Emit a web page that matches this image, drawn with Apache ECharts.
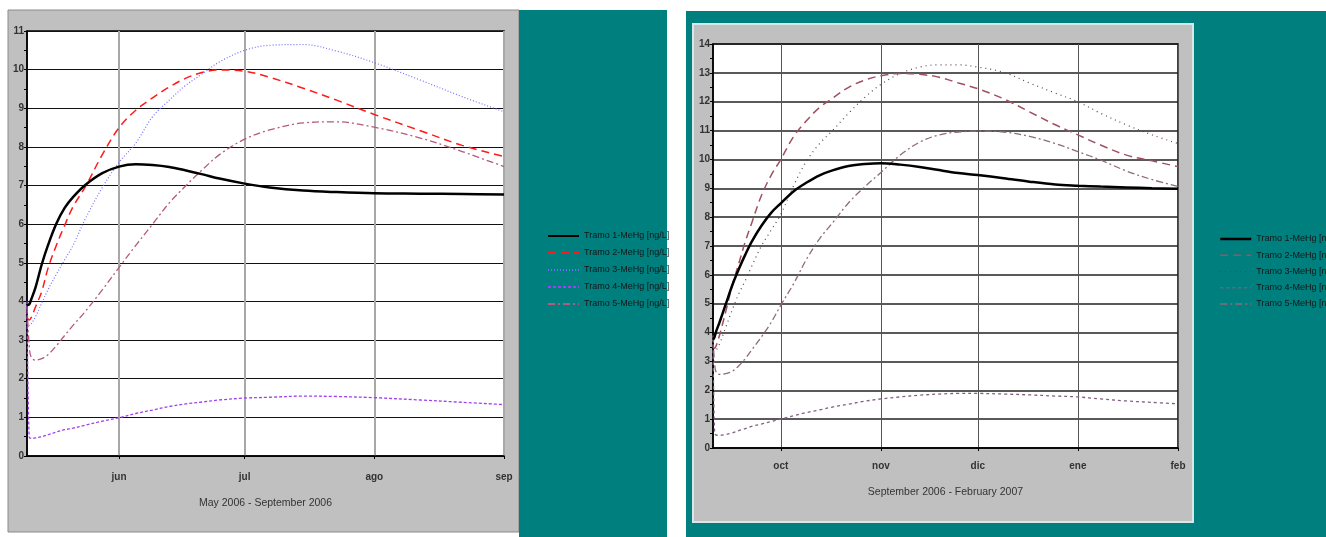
<!DOCTYPE html>
<html><head><meta charset="utf-8">
<script src="https://cdn.jsdelivr.net/npm/echarts@6/dist/echarts.min.js"></script>
<style>html,body{margin:0;padding:0;background:#fff}#c{width:1326px;height:537px}</style>
</head><body><div id="c"></div>
<script>
// ---------- data ----------
const SERIES_NAMES = ['Tramo 1-MeHg [ng/L]','Tramo 2-MeHg [ng/L]','Tramo 3-MeHg [ng/L]','Tramo 4-MeHg [ng/L]','Tramo 5-MeHg [ng/L]'];

// Left chart: days since 10 May 2006
const L_DAYS = [0,0.5,1,2,3.5,5,7,9,11,14,18,22,26,30,34,38,42,46,52,58,66,74,83,94,104,114];
const L_T1 = [3.9,3.92,4.05,4.35,4.95,5.45,6.01,6.42,6.70,7.02,7.32,7.49,7.55,7.53,7.48,7.39,7.29,7.18,7.05,6.95,6.87,6.83,6.80,6.79,6.78,6.77];
const L_T2 = [3.6,3.52,3.58,3.85,4.25,4.85,5.45,5.97,6.45,6.98,7.8,8.5,8.95,9.27,9.55,9.78,9.93,9.99,9.96,9.8,9.52,9.21,8.84,8.42,8.04,7.75];
const L_T3 = [3.45,3.38,3.42,3.6,3.95,4.3,4.7,5.08,5.45,6.15,6.95,7.6,8.1,8.78,9.21,9.6,9.9,10.2,10.5,10.63,10.65,10.48,10.18,9.73,9.3,8.91];
const L_T4 = [4.0,0.5,0.46,0.47,0.5,0.55,0.62,0.68,0.72,0.8,0.9,0.99,1.1,1.19,1.28,1.35,1.4,1.45,1.5,1.52,1.55,1.54,1.51,1.45,1.39,1.33];
const L_T5 = [3.9,2.9,2.55,2.48,2.52,2.62,2.85,3.12,3.38,3.75,4.3,4.88,5.45,6.0,6.55,7.0,7.42,7.8,8.2,8.44,8.62,8.65,8.51,8.23,7.88,7.49];
const L_TICK_DAYS = [22,52,83,114];
const L_TICK_LABELS = ['jun','jul','ago','sep'];
const L_TITLE = 'May 2006 - September 2006';

// Right chart: days since 10 September 2006
const R_DAYS = [0,0.5,1,2,4,6,8,10,12,15,18,21,25,29,33,37,42,47,52,58,64,70,76,82,90,98,106,113,120,128,136,144];
const R_T1 = [3.75,3.85,4.05,4.35,5.0,5.65,6.2,6.7,7.15,7.7,8.15,8.48,8.9,9.2,9.45,9.62,9.77,9.84,9.87,9.82,9.74,9.63,9.53,9.46,9.35,9.23,9.13,9.09,9.06,9.03,9.0,8.98];
const R_T2 = [3.5,3.45,3.55,3.9,4.75,5.65,6.4,7.15,7.8,8.75,9.45,10.0,10.8,11.35,11.8,12.12,12.5,12.75,12.9,12.98,12.95,12.85,12.65,12.45,12.1,11.65,11.2,10.85,10.5,10.15,9.95,9.75];
const R_T3 = [3.4,3.35,3.4,3.6,4.2,4.8,5.35,5.8,6.3,7.0,7.55,8.1,9.1,9.95,10.55,11.0,11.6,12.15,12.6,12.98,13.2,13.28,13.28,13.2,13.02,12.65,12.3,12.0,11.6,11.2,10.85,10.55];
const R_T4 = [3.8,0.5,0.45,0.44,0.47,0.52,0.6,0.67,0.75,0.83,0.92,1.0,1.12,1.23,1.32,1.42,1.52,1.62,1.7,1.77,1.83,1.87,1.89,1.89,1.87,1.84,1.8,1.77,1.7,1.63,1.58,1.53];
const R_T5 = [3.9,2.9,2.62,2.55,2.58,2.66,2.85,3.1,3.4,3.85,4.35,4.95,5.7,6.55,7.25,7.8,8.5,9.05,9.55,10.15,10.6,10.85,10.95,10.98,10.95,10.8,10.55,10.27,9.98,9.6,9.3,9.06];
const R_TICK_DAYS = [21,52,82,113,144];
const R_TICK_LABELS = ['oct','nov','dic','ene','feb'];
const R_TITLE = 'September 2006 - February 2007';

// ---------- styles ----------
const FONT = '"Liberation Sans",Arial,sans-serif';
const L_STYLES = [
  {color:'#000000', width:2.5, type:'solid'},
  {color:'#ff1a1a', width:1.5, type:[8,5]},
  {color:'#7070ff', width:1.2, type:[1,2]},
  {color:'#a040f0', width:1.3, type:[3,2]},
  {color:'#b45a80', width:1.3, type:[7,3,2,3]}
];
const R_STYLES = [
  {color:'#000000', width:2.5, type:'solid'},
  {color:'#a05060', width:1.5, type:[8,5]},
  {color:'#5a4050', width:1.2, type:[1,4]},
  {color:'#806080', width:1.3, type:[3,3]},
  {color:'#8e6a7c', width:1.3, type:[7,3,2,3]}
];

const pairs = (xs, ys) => xs.map((x, i) => [x, ys[i]]);
const L_VALUES = [L_T1, L_T2, L_T3, L_T4, L_T5];
const R_VALUES = [R_T1, R_T2, R_T3, R_T4, R_T5];

function mkSeries(values, days, styles, idx) {
  return values.map((v, i) => ({
    name: SERIES_NAMES[i], type: 'line', xAxisIndex: idx, yAxisIndex: idx,
    data: pairs(days, v), smooth: 0.35,
    symbol: 'none', showSymbol: false,
    lineStyle: Object.assign({}, styles[i]), itemStyle: {color: styles[i].color},
    emphasis: {disabled: true}, silent: true, z: 10 - i
  }));
}

function mkX(idx, max, tickDays, tickLabels, title, margin, gap, vColor, vWidth) {
  return {
    type: 'value', gridIndex: idx, min: 0, max: max,
    axisLine: {show: true, lineStyle: {color: '#000', width: 1.5}},
    axisTick: {show: true, length: 3, customValues: tickDays, lineStyle: {color: '#000'}},
    axisLabel: {customValues: tickDays, margin: margin, fontFamily: FONT, fontSize: 10, fontWeight: 'bold', color: '#333',
      formatter: v => tickLabels[tickDays.indexOf(v)] || ''},
    splitLine: {show: true, lineStyle: {color: vColor, width: vWidth}},
    name: title, nameLocation: 'middle', nameGap: gap,
    nameTextStyle: {fontFamily: FONT, fontSize: 10.5, color: '#333'}
  };
}
function mkY(idx, max, hColor, hWidth) {
  return {
    type: 'value', gridIndex: idx, min: 0, max: max, interval: 1,
    axisLine: {show: true, lineStyle: {color: '#000', width: 1.5}},
    axisTick: {show: true, length: 3, lineStyle: {color: '#000'}},
    minorTick: {show: true, splitNumber: 2, length: 3, lineStyle: {color: '#000'}},
    axisLabel: {margin: 3, fontFamily: FONT, fontSize: 10, fontWeight: 'bold', color: '#333'},
    splitLine: {show: true, lineStyle: {color: hColor, width: hWidth}}
  };
}

const legendText = {fontFamily: FONT, fontSize: 9, color: '#151515', lineHeight: 12};

const option = {
  animation: false,
  backgroundColor: '#ffffff',
  graphic: [
    {type: 'rect', z: -100, shape: {x: 8, y: 10, width: 511, height: 522}, style: {fill: '#c0c0c0', stroke: '#8a8a8a', lineWidth: 1}},
    {type: 'rect', z: -100, shape: {x: 519, y: 10, width: 148, height: 527}, style: {fill: '#007f7f'}},
    {type: 'rect', z: -100, shape: {x: 686, y: 11, width: 640, height: 526}, style: {fill: '#007f7f'}},
    {type: 'rect', z: -99, shape: {x: 693, y: 24, width: 500, height: 498}, style: {fill: '#c0c0c0', stroke: '#d8e8e8', lineWidth: 2}}
  ],
  grid: [
    {left: 27, top: 31, width: 477, height: 425, show: true, backgroundColor: '#ffffff', borderColor: '#000', borderWidth: 1.5},
    {left: 713, top: 44, width: 465, height: 404, show: true, backgroundColor: '#ffffff', borderColor: '#000', borderWidth: 1.5}
  ],
  xAxis: [
    mkX(0, 114, L_TICK_DAYS, L_TICK_LABELS, L_TITLE, 16, 42, '#a8a8a8', 2),
    mkX(1, 144, R_TICK_DAYS, R_TICK_LABELS, R_TITLE, 13, 39, '#555555', 1)
  ],
  yAxis: [
    mkY(0, 11, '#111111', 1.2),
    mkY(1, 14, '#222222', 1.5)
  ],
  legend: [
    {orient: 'vertical', left: 547, top: 230, padding: 0, itemWidth: 31, itemHeight: 12, itemGap: 5, selectedMode: false,
      textStyle: legendText, itemStyle: {opacity: 0},
      data: SERIES_NAMES.slice()},
    {orient: 'vertical', left: 1219, top: 233, padding: 0, itemWidth: 31, itemHeight: 12, itemGap: 4.25, selectedMode: false,
      textStyle: legendText, itemStyle: {opacity: 0},
      data: SERIES_NAMES.map((n, i) => ({name: n, lineStyle: Object.assign({}, R_STYLES[i]), itemStyle: {color: R_STYLES[i].color, opacity: 0}}))}
  ],
  series: mkSeries(L_VALUES, L_DAYS, L_STYLES, 0).concat(mkSeries(R_VALUES, R_DAYS, R_STYLES, 1))
};

const chart = echarts.init(document.getElementById('c'), null, {renderer: 'canvas'});
chart.setOption(option);
</script>
</body></html>
